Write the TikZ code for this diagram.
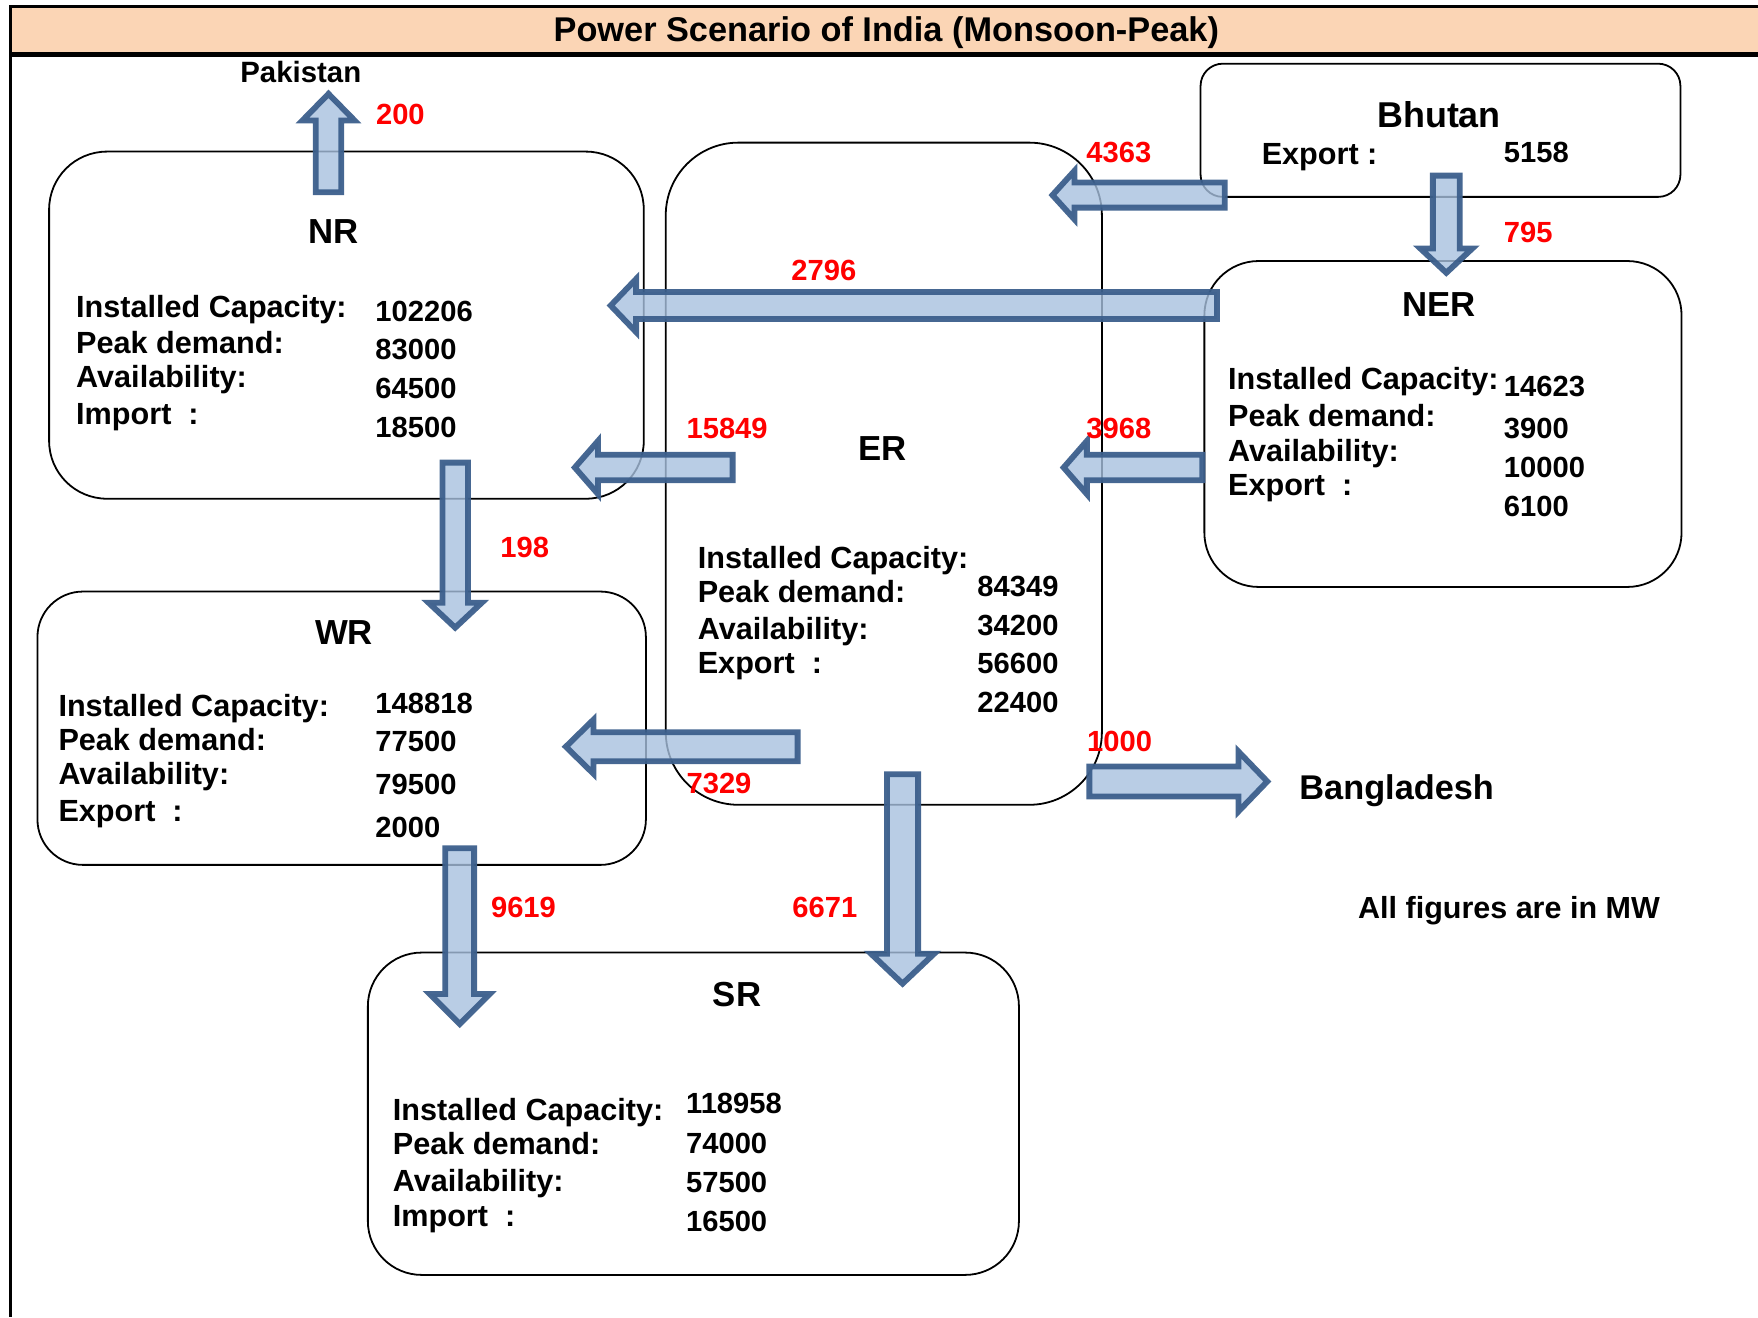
\documentclass[tikz,border=0pt]{standalone}
\usepackage{fontspec}
\setmainfont{Liberation Sans}
\definecolor{peach}{RGB}{251,213,181}
\definecolor{arrowfill}{RGB}{167,192,222}
\definecolor{arrowline}{RGB}{60,95,140}
\newcommand{\blockarrow}[7]{%
  \begin{scope}[shift={(#1,#2)},rotate=#3]
    \draw[blockarr] (0,-#5) -- ({#4-#7},-#5) -- ({#4-#7},-#6) -- (#4,0) -- ({#4-#7},#6) -- ({#4-#7},#5) -- (0,#5) -- cycle;
  \end{scope}}
\tikzset{
  regionbox/.style={draw=black, line width=0.8pt, rectangle, anchor=north west, inner sep=0},
  blockarr/.style={draw=arrowline, fill=arrowfill, line width=2.6pt, fill opacity=0.8, draw opacity=0.95, line join=miter, miter limit=10},
  lbl/.style={anchor=base west, inner sep=0, font=\bfseries\fontsize{13.65}{16}\selectfont},
  num/.style={anchor=base west, inner sep=0, font=\bfseries\fontsize{13}{16}\selectfont},
  flow/.style={anchor=base west, inner sep=0, text=red, font=\bfseries\fontsize{13}{16}\selectfont},
  regname/.style={anchor=base west, inner sep=0, font=\bfseries\fontsize{15.5}{18}\selectfont},
}
\begin{document}
\begin{tikzpicture}[x=0.5pt,y=-0.5pt]
\useasboundingbox (0,0) rectangle (1568,1175);
% title bar and frame
\fill[peach] (9.5,5.5) rectangle (1568,48.6);
\draw[line width=1.3pt] (1568,5.5) -- (9.5,5.5);
\draw[line width=2.2pt] (9.5,48.6) -- (1568,48.6);
\draw[line width=1.5pt] (9.5,4.8) -- (9.5,1175);
\node[anchor=base, inner sep=0, font=\bfseries\fontsize{15.3}{18}\selectfont] (title) at (790.5,37.2) {Power Scenario of India (Monsoon-Peak)};

% region boxes
\node[regionbox, minimum width=265.2pt, minimum height=154.8pt, rounded corners=25.8pt] (NR) at (43,134.4) {};
\node[regionbox, minimum width=271.35pt, minimum height=121.9pt, rounded corners=20.3pt] (WR) at (32.6,526.8) {};
\node[regionbox, minimum width=194.5pt, minimum height=295.3pt, rounded corners=32.4pt] (ER) at (593,126.4) {};
\node[regionbox, minimum width=212.8pt, minimum height=145.35pt, rounded corners=24.2pt] (NER) at (1073.4,232) {};
\node[regionbox, minimum width=214pt, minimum height=59.4pt, rounded corners=9.9pt] (BT) at (1070,56) {};
\node[regionbox, minimum width=290.35pt, minimum height=143.75pt, rounded corners=24pt] (SR) at (327.3,848.8) {};

% block arrows
\blockarrow{293}{171.4}{90}{87.7}{11.4}{23.2}{23.7}
\blockarrow{1092.4}{174}{180}{153.7}{11.2}{21.7}{19.7}
\blockarrow{1290}{156.6}{-90}{86.7}{12}{23.2}{21.7}
\blockarrow{1085.4}{272.5}{180}{540.7}{12}{23.7}{22.7}
\blockarrow{653.4}{417}{180}{140.7}{11.4}{23.7}{20.7}
\blockarrow{1072.4}{417}{180}{123.7}{11.4}{23.7}{20.7}
\blockarrow{406}{412.6}{-90}{147.2}{11.4}{23.7}{22.2}
\blockarrow{711.4}{666}{180}{206.7}{12.9}{24.2}{24.7}
\blockarrow{410}{756.6}{-90}{156.7}{12.9}{26.7}{26.7}
\blockarrow{805}{690.6}{-90}{186.7}{13.9}{28.2}{26.7}
\blockarrow{971.6}{697}{0}{158.7}{13.4}{26.7}{25.7}

% outside names
\node[anchor=base west, inner sep=0, font=\bfseries\fontsize{13.1}{16}\selectfont] (pak) at (214,74) {Pakistan};
\node[anchor=base west, inner sep=0, font=\bfseries\fontsize{15.3}{18}\selectfont] (bang) at (1158.6,713) {Bangladesh};
\node[anchor=base west, inner sep=0, font=\bfseries\fontsize{13.6}{16}\selectfont] (note) at (1211,819) {All figures are in MW};

% flow values
\node[flow] (f200) at (335,110.6) {200};
\node[flow] (f4363) at (968.6,145) {4363};
\node[flow] (f795) at (1341,216) {795};
\node[flow] (f2796) at (705.5,250.6) {2796};
\node[flow] (f15849) at (612,390.7) {15849};
\node[flow] (f3968) at (968.6,390.7) {3968};
\node[flow] (f198) at (446,497) {198};
\node[flow] (f1000) at (969.3,670.4) {1000};
\node[flow] (f7329) at (612,708) {7329};
\node[flow] (f9619) at (437.6,818) {9619};
\node[flow] (f6671) at (706.4,818) {6671};

% Bhutan
\node[anchor=base west, inner sep=0, font=\bfseries\fontsize{16}{18}\selectfont] (btn) at (1228,114) {Bhutan};
\node[lbl] (btl) at (1125,147) {Export :};
\node[num] (btv) at (1341,145) {5158};

% NR
\node[regname] (nrn) at (274.7,217) {NR};
\node[lbl] (nr1) at (67.6,283.6) {Installed Capacity:};
\node[lbl] (nr2) at (67.6,315) {Peak demand:};
\node[lbl] (nr3) at (67.6,346) {Availability:};
\node[lbl] (nr4) at (67.6,379) {Import~~:};
\node[num] (nrv1) at (334.5,286.5) {102206};
\node[num] (nrv2) at (334.5,321) {83000};
\node[num] (nrv3) at (334.5,355) {64500};
\node[num] (nrv4) at (334.5,390.6) {18500};

% ER
\node[regname] (ern) at (765,411) {ER};
\node[lbl] (er1) at (622,506.8) {Installed Capacity:};
\node[lbl] (er2) at (622,537.6) {Peak demand:};
\node[lbl] (er3) at (622,570.8) {Availability:};
\node[lbl] (er4) at (622,601) {Export~~:};
\node[num] (erv1) at (871.4,531.6) {84349};
\node[num] (erv2) at (871.4,566.4) {34200};
\node[num] (erv3) at (871.4,601) {56600};
\node[num] (erv4) at (871.4,635.6) {22400};

% NER
\node[regname] (nern) at (1250.6,282.7) {NER};
\node[lbl] (ner1) at (1095,347) {Installed Capacity:};
\node[lbl] (ner2) at (1095,380) {Peak demand:};
\node[lbl] (ner3) at (1095,412) {Availability:};
\node[lbl] (ner4) at (1095,441.5) {Export~~:};
\node[num] (nerv1) at (1341,354) {14623};
\node[num] (nerv2) at (1341,390.7) {3900};
\node[num] (nerv3) at (1341,425.5) {10000};
\node[num] (nerv4) at (1341,461) {6100};

% WR
\node[regname] (wrn) at (280.7,574.4) {WR};
\node[lbl] (wr1) at (51.8,639.2) {Installed Capacity:};
\node[lbl] (wr2) at (51.8,669) {Peak demand:};
\node[lbl] (wr3) at (51.8,700) {Availability:};
\node[lbl] (wr4) at (51.8,732.9) {Export~~:};
\node[num] (wrv1) at (334.5,636.2) {148818};
\node[num] (wrv2) at (334.5,670.4) {77500};
\node[num] (wrv3) at (334.5,708.2) {79500};
\node[num] (wrv4) at (334.5,747.4) {2000};

% SR
\node[regname] (srn) at (635.5,897.8) {SR};
\node[lbl] (sr1) at (350,999.5) {Installed Capacity:};
\node[lbl] (sr2) at (350,1030) {Peak demand:};
\node[lbl] (sr3) at (350,1062.8) {Availability:};
\node[lbl] (sr4) at (350,1094) {Import~~:};
\node[num] (srv1) at (611.6,993) {118958};
\node[num] (srv2) at (611.6,1028.6) {74000};
\node[num] (srv3) at (611.6,1063.7) {57500};
\node[num] (srv4) at (611.6,1098.5) {16500};
\end{tikzpicture}
\end{document}
